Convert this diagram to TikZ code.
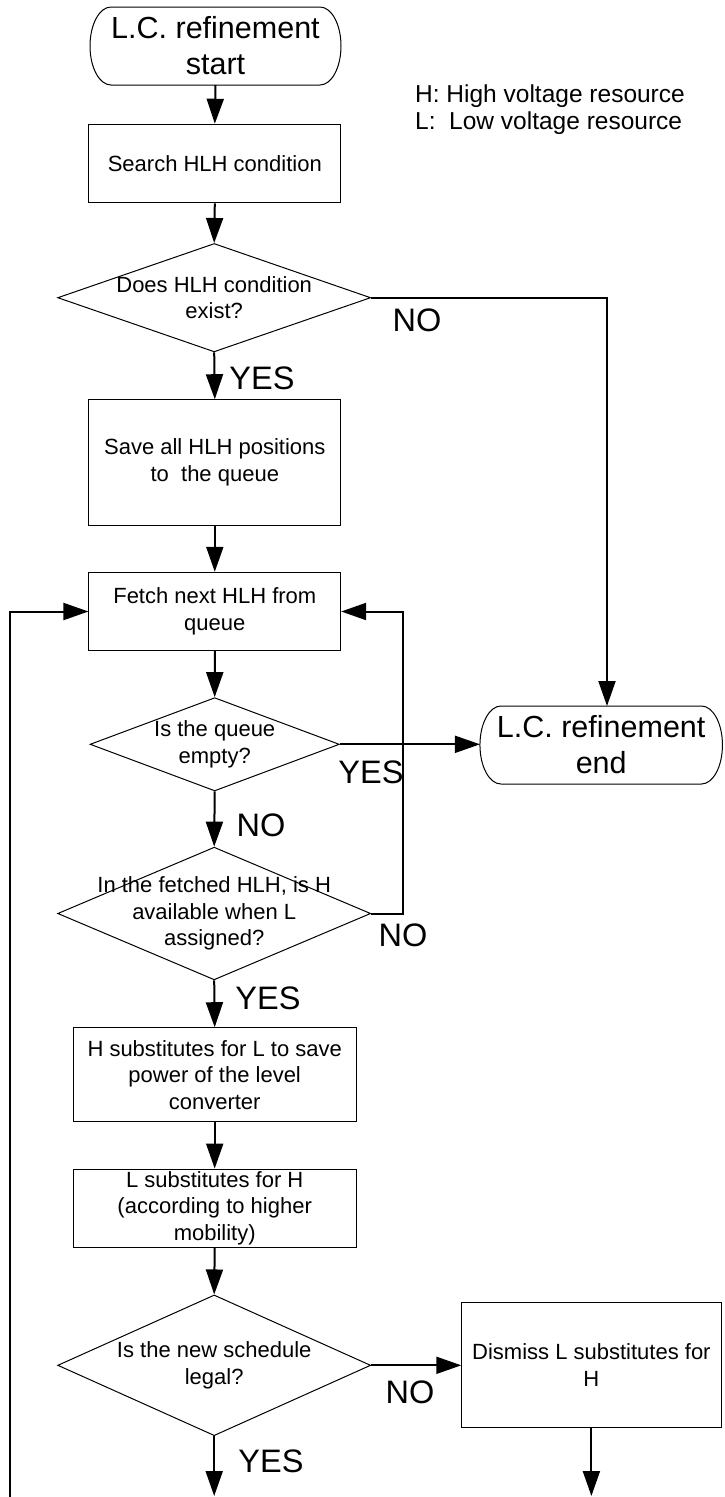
\documentclass[tikz,border=0pt]{standalone}
\usepackage{fontspec}
\setmainfont{Liberation Sans}
\usetikzlibrary{arrows.meta,shapes.geometric}

\newcommand\flowboxfont{\fontsize{22}{26.5}\selectfont}
\newcommand\flowtermfont{\fontsize{30.5}{36}\selectfont}
\newcommand\flowlabelfont{\fontsize{32.5}{36}\selectfont}
\newcommand\flowlegendfont{\fontsize{24.5}{27.5}\selectfont}

% elliptical-ended outline of a start/end node
\newcommand\terminaloutline[1]{%
  \draw[shapeline] ([xshift=21pt]#1.north west) -- ([xshift=-21pt]#1.north east)
    arc[start angle=90, end angle=-90, x radius=21pt, y radius=39pt]
    -- ([xshift=21pt]#1.south west)
    arc[start angle=270, end angle=90, x radius=21pt, y radius=39pt] -- cycle;}

\tikzset{
  shapeline/.style={line width=1pt},
  proc/.style={draw, shapeline, inner sep=0pt, align=center, font=\flowboxfont},
  term/.style={inner sep=0pt, outer sep=0pt, align=center, font=\flowtermfont,
    minimum height=78pt},
  dec/.style={draw, shapeline, diamond, inner sep=0pt},
  dectext/.style={inner sep=0pt, align=center, font=\flowboxfont},
  lab/.style={inner sep=0pt, font=\flowlabelfont},
  flow/.style={line width=2pt, -{Triangle[length=25pt,width=17pt]}},
}

\begin{document}
\begin{tikzpicture}[x=1pt,y=-1pt]
\useasboundingbox (0,0) rectangle (724,1497);

% terminals
\node[term, minimum width=251pt] (start) at (215.5,46) {L.C. refinement\\start};
\terminaloutline{start}
\node[term, minimum width=242.5pt] (endt) at (601.2,745) {L.C. refinement\\end};
\terminaloutline{endt}

% legend
\node[inner sep=0pt, anchor=north west, align=left, font=\flowlegendfont]
  (legend) at (415,84.3) {H: High voltage resource\\L:~ Low voltage resource};

% process boxes
\node[proc, minimum width=251.7pt, minimum height=78.7pt] (b1) at (214.8,163.6)
  {Search HLH condition};
\node[proc, minimum width=251.7pt, minimum height=125.6pt] (b2) at (214.8,462.5)
  {Save all HLH positions\\to~ the queue};
\node[proc, minimum width=251.7pt, minimum height=78.4pt] (b3) at (214.8,611.5)
  {Fetch next HLH from\\queue};
\node[proc, minimum width=283.4pt, minimum height=94pt] (b4) at (214.7,1074.7)
  {H substitutes for L to save\\power of the level\\converter};
\node[proc, minimum width=283.4pt, minimum height=78.3pt] (b5) at (214.7,1208.2)
  {L substitutes for H\\(according to higher\\mobility)};
\node[proc, minimum width=259.3pt, minimum height=125pt] (b6) at (591.4,1365.2)
  {Dismiss L substitutes for\\H};

% decisions
\node[dec, minimum width=313pt, minimum height=108.4pt] (d1) at (214.2,297.7) {};
\node[dectext] (d1t) at (d1.center) {Does HLH condition\\exist?};
\node[dec, minimum width=249.3pt, minimum height=93.3pt] (d2) at (214.7,744.3) {};
\node[dectext] (d2t) at (d2.center) {Is the queue\\empty?};
\node[dec, minimum width=313pt, minimum height=132.7pt] (d3) at (214.2,913.5) {};
\node[dectext] (d3t) at (d3.center) {In the fetched HLH, is H\\available when L\\assigned?};
\node[dec, minimum width=313pt, minimum height=140.7pt] (d4) at (214.2,1365.3) {};
\node[dectext] (d4t) at (d4.center) {Is the new schedule\\legal?};

% helper coordinates for routed connectors
\coordinate (nox) at (607,0);
\coordinate (rx) at (403,0);
\coordinate (bottom) at (0,1496);
\coordinate (loopin) at (10.2,1497);

% connectors
\draw[flow] (start.south) -- (b1.north);
\draw[flow] (b1.south) -- (d1.north);
\draw[flow] (d1.east) -| (nox |- endt.north);
\draw[flow] (d1.south) -- (b2.north);
\draw[flow] (b2.south) -- (b3.north);
\draw[flow] (b3.south) -- (d2.north);
\draw[flow] (d2.east) -- (d2.east -| endt.west);
\draw[flow] (d2.south) -- (d3.north);
\draw[flow] (d3.east) -- (d3.east -| rx) |- (b3.east);
\draw[flow] (d3.south) -- (b4.north);
\draw[flow] (b4.south) -- (b5.north);
\draw[flow] (b5.south) -- (d4.north);
\draw[flow] (d4.east) -- (d4.east -| b6.west);
\draw[flow] (d4.south) -- (d4.south |- bottom);
\draw[flow] (b6.south) -- (b6.south |- bottom);
\draw[flow] (loopin) |- (b3.west);

% branch labels
\node[lab] (l1no) at (417,320) {NO};
\node[lab] (l1yes) at (262,378) {YES};
\node[lab] (l2yes) at (371,772) {YES};
\node[lab] (l2no) at (261,825) {NO};
\node[lab] (l3no) at (403,935) {NO};
\node[lab] (l3yes) at (268,998) {YES};
\node[lab] (l4no) at (410,1392) {NO};
\node[lab] (l4yes) at (271,1461) {YES};
\end{tikzpicture}
\end{document}
